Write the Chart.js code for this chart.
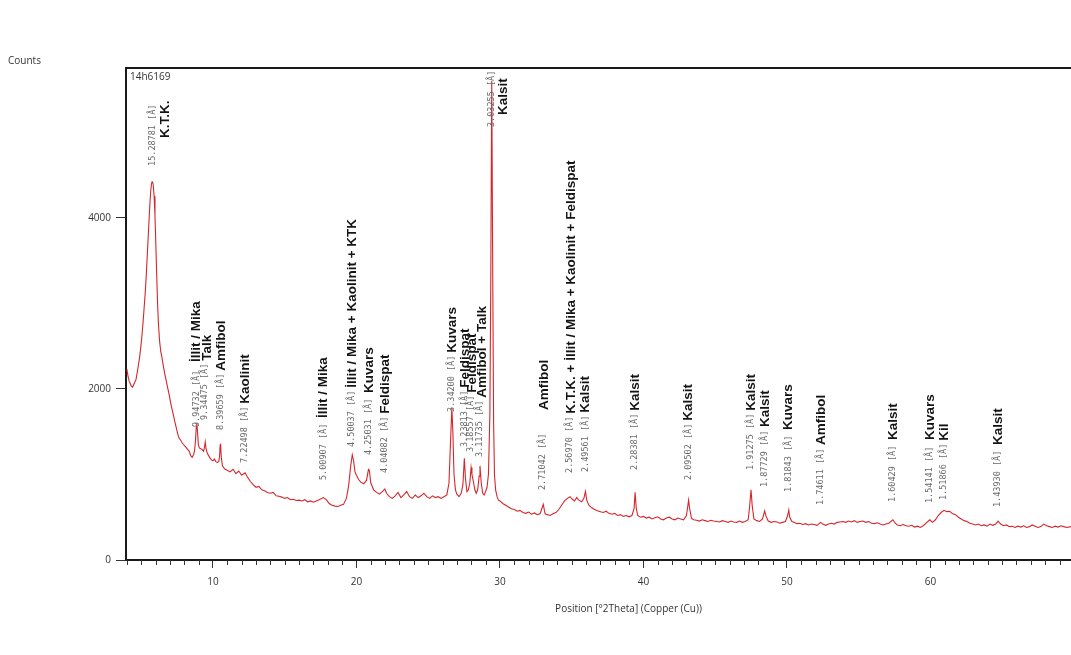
<!DOCTYPE html>
<html>
<head>
<meta charset="utf-8">
<title>14h6169</title>
<script src="https://cdn.jsdelivr.net/npm/chart.js@4.4.1/dist/chart.umd.min.js"></script>
<style>
  body { margin: 0; background: #fff; }
  #wrap { width: 1071px; height: 655px; }
</style>
</head>
<body>
<div id="wrap"><canvas id="xrdChart" width="1071" height="655"></canvas></div>
<script>
// diffractogram, position in degrees 2theta
const twoTheta = [
  4.00, 4.08, 4.16, 4.24, 4.32, 4.40, 4.48, 4.56, 4.64, 4.72, 4.80, 4.88, 4.96, 5.04, 5.12, 5.20,
  5.28, 5.36, 5.44, 5.52, 5.60, 5.66, 5.72, 5.76, 5.80, 5.84, 5.90, 5.96, 6.02, 6.08, 6.14, 6.20,
  6.28, 6.36, 6.44, 6.55, 6.65, 6.75, 6.85, 6.95, 7.05, 7.15, 7.25, 7.35, 7.45, 7.55, 7.65, 7.75,
  7.85, 7.95, 8.05, 8.15, 8.25, 8.35, 8.45, 8.55, 8.65, 8.72, 8.78, 8.84, 8.88, 8.93, 8.98, 9.05,
  9.15, 9.25, 9.35, 9.42, 9.46, 9.52, 9.60, 9.70, 9.80, 9.90, 10.00, 10.10, 10.20, 10.30, 10.40, 10.46,
  10.50, 10.53, 10.58, 10.66, 10.75, 10.85, 11.0, 11.2, 11.4, 11.6, 11.8, 12.0, 12.24, 12.4, 12.6, 12.8,
  13.0, 13.2, 13.4, 13.6, 13.8, 14.0, 14.2, 14.4, 14.6, 14.8, 15.0, 15.2, 15.4, 15.6, 15.8, 16.0,
  16.2, 16.4, 16.6, 16.8, 17.0, 17.2, 17.4, 17.7, 17.9, 18.1, 18.3, 18.5, 18.7, 18.9, 19.1, 19.3,
  19.45, 19.6, 19.71, 19.8, 19.9, 20.0, 20.15, 20.3, 20.5, 20.7, 20.84, 20.9, 21.0, 21.2, 21.4, 21.6,
  21.8, 21.98, 22.1, 22.3, 22.5, 22.7, 22.9, 23.1, 23.3, 23.5, 23.7, 23.9, 24.1, 24.3, 24.5, 24.7,
  24.9, 25.1, 25.3, 25.5, 25.7, 25.9, 26.1, 26.3, 26.45, 26.55, 26.65, 26.72, 26.8, 26.9, 27.0, 27.15,
  27.3, 27.42, 27.52, 27.6, 27.7, 27.8, 27.9, 27.99, 28.05, 28.15, 28.25, 28.35, 28.45, 28.55, 28.61, 28.7,
  28.8, 28.9, 29.0, 29.1, 29.2, 29.3, 29.36, 29.43, 29.5, 29.56, 29.62, 29.7, 29.8, 29.9, 30.0, 30.2,
  30.4, 30.6, 30.8, 31.0, 31.2, 31.4, 31.6, 31.8, 32.0, 32.2, 32.4, 32.6, 32.8, 33.02, 33.15, 33.3,
  33.5, 33.7, 33.9, 34.1, 34.3, 34.5, 34.7, 34.89, 35.05, 35.2, 35.35, 35.5, 35.7, 35.85, 35.96, 36.05,
  36.2, 36.4, 36.6, 36.8, 37.0, 37.2, 37.4, 37.6, 37.8, 38.0, 38.2, 38.4, 38.6, 38.8, 39.0, 39.2,
  39.35, 39.42, 39.5, 39.6, 39.8, 40.0, 40.2, 40.4, 40.6, 40.8, 41.0, 41.2, 41.4, 41.6, 41.8, 42.0,
  42.2, 42.4, 42.6, 42.8, 43.0, 43.1, 43.15, 43.22, 43.35, 43.5, 43.7, 43.9, 44.1, 44.3, 44.5, 44.7,
  44.9, 45.1, 45.3, 45.5, 45.7, 45.9, 46.1, 46.3, 46.5, 46.7, 46.9, 47.1, 47.3, 47.4, 47.5, 47.58,
  47.7, 47.9, 48.1, 48.3, 48.45, 48.55, 48.7, 48.9, 49.1, 49.3, 49.5, 49.7, 49.9, 50.05, 50.13, 50.2,
  50.35, 50.5, 50.7, 50.9, 51.1, 51.3, 51.5, 51.7, 51.9, 52.1, 52.35, 52.5, 52.7, 52.9, 53.1, 53.3,
  53.5, 53.7, 53.9, 54.1, 54.3, 54.5, 54.7, 54.9, 55.1, 55.3, 55.5, 55.7, 55.9, 56.1, 56.3, 56.5,
  56.7, 56.9, 57.1, 57.39, 57.55, 57.7, 57.9, 58.1, 58.3, 58.5, 58.7, 58.9, 59.1, 59.3, 59.5, 59.7,
  59.96, 60.15, 60.35, 60.55, 60.75, 60.95, 61.15, 61.35, 61.55, 61.75, 61.95, 62.15, 62.35, 62.55, 62.75, 62.95,
  63.15, 63.35, 63.55, 63.75, 63.95, 64.15, 64.35, 64.55, 64.72, 64.9, 65.1, 65.3, 65.5, 65.7, 65.9, 66.1,
  66.3, 66.5, 66.7, 66.9, 67.1, 67.3, 67.5, 67.7, 67.9, 68.1, 68.3, 68.5, 68.7, 68.9, 69.1, 69.3,
  69.5, 69.8
];

const counts = [
  2230, 2150, 2090, 2060, 2030, 2020, 2050, 2080, 2110, 2190, 2270, 2360, 2470, 2600, 2760, 2940,
  3120, 3350, 3620, 3880, 4150, 4310, 4400, 4420, 4415, 4380, 4250, 4020, 3680, 3330, 3000, 2760,
  2560, 2440, 2370, 2260, 2170, 2090, 2010, 1930, 1840, 1760, 1690, 1610, 1540, 1470, 1420, 1400,
  1370, 1350, 1330, 1310, 1290, 1270, 1220, 1200, 1230, 1280, 1390, 1560, 1600, 1480, 1350, 1310,
  1300, 1290, 1270, 1330, 1380, 1300, 1250, 1220, 1190, 1170, 1160, 1180, 1150, 1140, 1150, 1210,
  1340, 1360, 1200, 1100, 1080, 1060, 1050, 1030, 1060, 1010, 1040, 990, 1020, 970, 920, 880,
  850, 860, 820, 810, 790, 780, 790, 750, 745, 735, 720, 730, 705, 710, 695, 700,
  690, 705, 680, 690, 675, 690, 705, 730, 705, 660, 640, 630, 625, 640, 650, 720,
  860, 1100, 1230, 1160, 1030, 990, 940, 910, 890, 930, 1060, 1050, 900, 820, 790, 770,
  800, 830, 780, 740, 720, 750, 790, 730, 760, 800, 740, 720, 760, 730, 750, 780,
  740, 720, 750, 730, 740, 720, 740, 760, 900, 1350, 1780, 1500, 1000, 820, 770, 740,
  780, 880, 1190, 950, 800, 820, 900, 1080, 1000, 920, 820, 780, 820, 980, 1100, 900,
  780, 760, 800, 850, 1000, 1700, 3200, 5600, 3300, 1600, 1000, 820, 740, 700, 690, 660,
  640, 620, 600, 590, 570, 580, 555, 545, 560, 535, 550, 530, 540, 650, 540, 530,
  520, 540, 555, 590, 640, 690, 720, 740, 710, 690, 730, 700, 680, 720, 800, 700,
  640, 610, 590, 575, 565, 555, 570, 545, 535, 545, 520, 530, 510, 520, 505, 520,
  600, 790, 610, 520, 500, 510, 490, 500, 480, 495, 505, 480, 470, 490, 500, 480,
  470, 490, 480, 470, 520, 640, 700, 600, 490, 470, 465, 455, 470, 460, 450, 465,
  455, 450, 445, 460, 450, 440, 455, 445, 440, 455, 440, 450, 470, 620, 820, 640,
  480, 460, 450, 480, 575, 510, 455, 440, 450, 445, 430, 440, 450, 520, 585, 500,
  450, 440, 425, 430, 415, 425, 410, 420, 415, 405, 440, 420, 405, 420, 430, 420,
  440, 445, 450, 440, 455, 445, 460, 440, 450, 455, 440, 450, 430, 425, 435, 420,
  410, 420, 430, 470, 430, 410, 400, 415, 400, 395, 405, 385, 395, 380, 400, 430,
  470, 440, 470, 520, 555, 580, 565, 570, 540, 530, 500, 480, 460, 450, 430, 420,
  410, 420, 400, 410, 395, 420, 405, 420, 455, 420, 400, 410, 390, 395, 380, 395,
  385, 400, 380, 390, 410, 395, 380, 390, 420, 400, 390, 380, 395, 385, 400, 390,
  380, 390
];

// identified reflections
const peakPositions = [5.776, 8.882, 9.457, 10.527, 12.241, 17.692, 19.711, 20.883, 21.979,
  26.652, 27.523, 27.986, 28.611, 29.430, 33.022, 34.886, 35.956, 39.423, 43.146,
  47.497, 48.448, 50.126, 52.354, 57.389, 59.964, 60.959, 64.715];
const dSpacings = ['15.28781', '9.94732', '9.34475', '8.39659', '7.22498', '5.00907', '4.50037',
  '4.25031', '4.04082', '3.34200', '3.23813', '3.18557', '3.11735', '3.03255', '2.71042',
  '2.56970', '2.49561', '2.28381', '2.09502', '1.91275', '1.87729', '1.81843', '1.74611',
  '1.60429', '1.54141', '1.51866', '1.43930'];
const phaseNames = ['K.T.K.', 'İllit / Mika', 'Talk', 'Amfibol', 'Kaolinit', 'İllit / Mika',
  'İllit / Mika + Kaolinit + KTK', 'Kuvars', 'Feldispat', 'Kuvars', 'Feldispat', 'Feldispat',
  'Amfibol + Talk', 'Kalsit', 'Amfibol', 'K.T.K. + İllit / Mika + Kaolinit + Feldispat',
  'Kalsit', 'Kalsit', 'Kalsit', 'Kalsit', 'Kalsit', 'Kuvars', 'Amfibol', 'Kalsit', 'Kuvars',
  'Kil', 'Kalsit'];

const xTickValues = [10, 20, 30, 40, 50, 60];
const yTickValues = [0, 2000, 4000];

// where each label starts (in counts) and how far the phase name sits to the side
const labelStart = [4605, 1554, 1636, 1519, 1134, 935, 1321, 1227, 1017, 1730, 1321, 1262, 1204,
  5060, 818, 1017, 1028, 1052, 935, 1052, 853, 795, 643, 678, 666, 701, 619];
const nameStart = [4932, 2314, 2185, 2139, 1788, 1660, 1905, 1952, 1601, 2302, 1952, 1870, 1870,
  5201, 1753, 1601, 1718, 1660, 1601, 1718, 1554, 1519, 1344, 1402, 1402, 1344, 1344];
const nameSide = [13, -1, 2, 1, 0, 0, 0, 0, 0, 0, 1, 1, 2, 12, 1, 1, 0, 0, 0, 0, 1, 0, 1, 0, 0, 0, 0];

const uiFont = '"Open Sans", "DejaVu Sans", sans-serif';
const dFont = '8.5px "DejaVu Sans Mono", monospace';
const nameFont = 'bold 13.5px "Liberation Sans", Arial, sans-serif';

const peakLabels = {
  id: 'peakLabels',
  afterDatasetsDraw(chart) {
    const { ctx, scales: { x, y } } = chart;
    peakPositions.forEach((pos, i) => {
      const px = x.getPixelForValue(pos);
      const base = y.getPixelForValue(labelStart[i]);
      const nameBase = y.getPixelForValue(nameStart[i]);
      const dText = dSpacings[i] + ' [Å]';
      ctx.save();
      ctx.translate(px, base);
      ctx.rotate(-Math.PI / 2);
      ctx.textBaseline = 'middle';
      ctx.textAlign = 'left';
      ctx.font = dFont;
      ctx.fillStyle = '#6a6a6a';
      ctx.fillText(dText, 0, 0);
      const dLen = ctx.measureText(dText).width;
      // names that run on from the spacing must not overlap it
      let along = base - nameBase;
      if (nameSide[i] < 5) along = Math.max(along, dLen + 3);
      ctx.font = nameFont;
      ctx.fillStyle = '#141414';
      ctx.fillText(phaseNames[i], along, nameSide[i]);
      ctx.restore();
    });
  }
};

// frame line on top, minor ticks on the 2theta axis, free texts
const frameAndText = {
  id: 'frameAndText',
  afterDraw(chart) {
    const { ctx, chartArea: a, scales: { x } } = chart;
    ctx.save();
    ctx.strokeStyle = '#1a1a1a';
    ctx.lineWidth = 2;
    ctx.beginPath();
    ctx.moveTo(a.left - 1, a.top);
    ctx.lineTo(a.right, a.top);
    ctx.stroke();

    ctx.lineWidth = 1;
    ctx.strokeStyle = '#333';
    for (let v = Math.ceil(x.min); v <= x.max; v++) {
      if (v % 10 === 0) continue;
      const px = Math.round(x.getPixelForValue(v)) + 0.5;
      ctx.beginPath();
      ctx.moveTo(px, a.bottom);
      ctx.lineTo(px, a.bottom + 5);
      ctx.stroke();
    }

    ctx.fillStyle = '#333';
    ctx.font = '10px ' + uiFont;
    ctx.textBaseline = 'middle';
    ctx.textAlign = 'left';
    ctx.fillText('Counts', 8, 61);
    ctx.fillText('14h6169', a.left + 4, a.top + 9);
    ctx.textAlign = 'center';
    ctx.fillText('Position [°2Theta] (Copper (Cu))', (a.left + a.right) / 2 + 30, 609);
    ctx.restore();
  }
};

new Chart(document.getElementById('xrdChart'), {
  type: 'line',
  data: {
    datasets: [{
      label: '14h6169',
      data: twoTheta.map((t, i) => ({ x: t, y: counts[i] })),
      borderColor: 'rgb(214, 38, 44)',
      borderWidth: 1.1,
      pointRadius: 0,
      tension: 0,
      fill: false
    }]
  },
  options: {
    responsive: false,
    animation: false,
    layout: { padding: { top: 68, right: 0, left: 0, bottom: 0 } },
    plugins: {
      legend: { display: false },
      tooltip: { enabled: false },
      title: { display: false }
    },
    scales: {
      x: {
        type: 'linear',
        min: 3.94,
        max: 69.8,
        afterBuildTicks: s => { s.ticks = xTickValues.map(v => ({ value: v })); },
        afterFit: s => { s.height = 95; },
        grid: { drawOnChartArea: false, tickLength: 8, tickColor: '#333', tickWidth: 1 },
        border: { color: '#1a1a1a', width: 2 },
        ticks: { color: '#333', font: { family: uiFont, size: 10 }, padding: 8, maxRotation: 0,
          callback: v => String(v) }
      },
      y: {
        min: 0,
        max: 5750,
        afterBuildTicks: s => { s.ticks = yTickValues.map(v => ({ value: v })); },
        afterFit: s => { s.width = 126; },
        grid: { drawOnChartArea: false, tickLength: 10, tickColor: '#333', tickWidth: 1 },
        border: { color: '#1a1a1a', width: 2 },
        ticks: { color: '#333', font: { family: uiFont, size: 10 }, padding: 5,
          callback: v => String(v) }
      }
    }
  },
  plugins: [peakLabels, frameAndText]
});
</script>
</body>
</html>
